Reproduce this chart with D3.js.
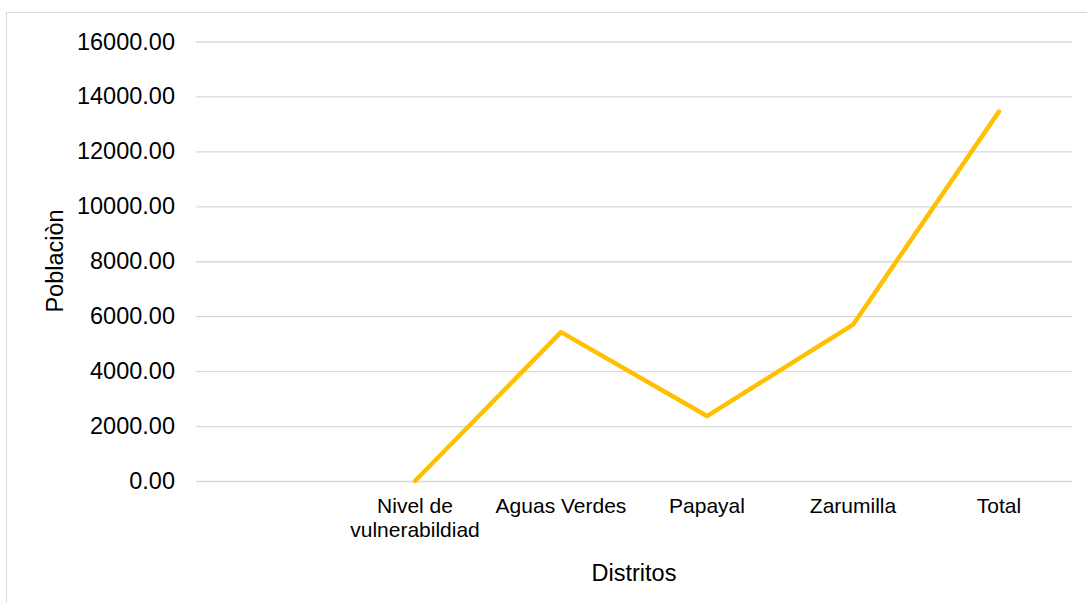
<!DOCTYPE html>
<html>
<head>
<meta charset="utf-8">
<script src="https://cdn.jsdelivr.net/npm/d3@7"></script>
<style>
  body { margin: 0; background: #fff; }
  text { font-family: "Liberation Sans", Arial, sans-serif; fill: #000; }
</style>
</head>
<body>
<script>
/*** data ***/
const categories = ["", "Nivel de vulnerabildiad", "Aguas Verdes", "Papayal", "Zarumilla", "Total"];
const poblacion = [null, 0, 5420, 2365, 5690, 13450];
const yTicks = [0, 2000, 4000, 6000, 8000, 10000, 12000, 14000, 16000];

/*** layout ***/
const width = 1087, height = 603;
const margin = { top: 41.5, right: 15, bottom: 122, left: 196 };

const svg = d3.select("body").append("svg")
  .attr("width", width)
  .attr("height", height);

// outer chart border (runs off the right/bottom of the picture)
svg.append("rect")
  .attr("x", 6.5).attr("y", 12.5)
  .attr("width", width + 10).attr("height", height + 10)
  .attr("fill", "none")
  .attr("stroke", "#d9d9d9");

const x = d3.scaleBand()
  .domain(categories.map((d, i) => i))
  .range([margin.left, width - margin.right]);

const y = d3.scaleLinear()
  .domain([0, 16000])
  .range([height - margin.bottom, margin.top]);

// gridlines + y labels
const yAxis = svg.append("g")
  .attr("transform", `translate(${margin.left},0)`)
  .call(d3.axisLeft(y).tickValues(yTicks).tickFormat(d3.format(".2f"))
    .tickSize(-(width - margin.right - margin.left)).tickPadding(21));
yAxis.select(".domain").remove();
yAxis.selectAll("line").attr("stroke", "#d9d9d9").attr("stroke-width", 1.3);
yAxis.selectAll("text")
  .style("font-size", "23.5px")
  .attr("fill", "#000");

// category labels (wrap on the space after "Nivel de")
const xg = svg.append("g");
categories.forEach((c, i) => {
  const lines = c === "Nivel de vulnerabildiad" ? ["Nivel de", "vulnerabildiad"] : [c];
  const t = xg.append("text")
    .attr("x", x(i) + x.bandwidth() / 2)
    .attr("y", 513)
    .attr("text-anchor", "middle")
    .style("font-size", "21px");
  lines.forEach((l, j) => {
    t.append("tspan")
      .attr("x", x(i) + x.bandwidth() / 2)
      .attr("dy", j === 0 ? 0 : 24)
      .text(l);
  });
});

// axis titles
svg.append("text")
  .attr("x", 634).attr("y", 581)
  .attr("text-anchor", "middle")
  .style("font-size", "23.5px")
  .text("Distritos");

svg.append("text")
  .attr("transform", "translate(63,261) rotate(-90)")
  .attr("text-anchor", "middle")
  .style("font-size", "23.5px")
  .text("Poblaciòn");

// the line
const line = d3.line()
  .defined(d => d.v != null)
  .x(d => x(d.i) + x.bandwidth() / 2)
  .y(d => y(d.v));

svg.append("path")
  .datum(poblacion.map((v, i) => ({ i, v })))
  .attr("d", line)
  .attr("fill", "none")
  .attr("stroke", "#FFC000")
  .attr("stroke-width", 4.5)
  .attr("stroke-linejoin", "round")
  .attr("stroke-linecap", "round");
</script>
</body>
</html>
